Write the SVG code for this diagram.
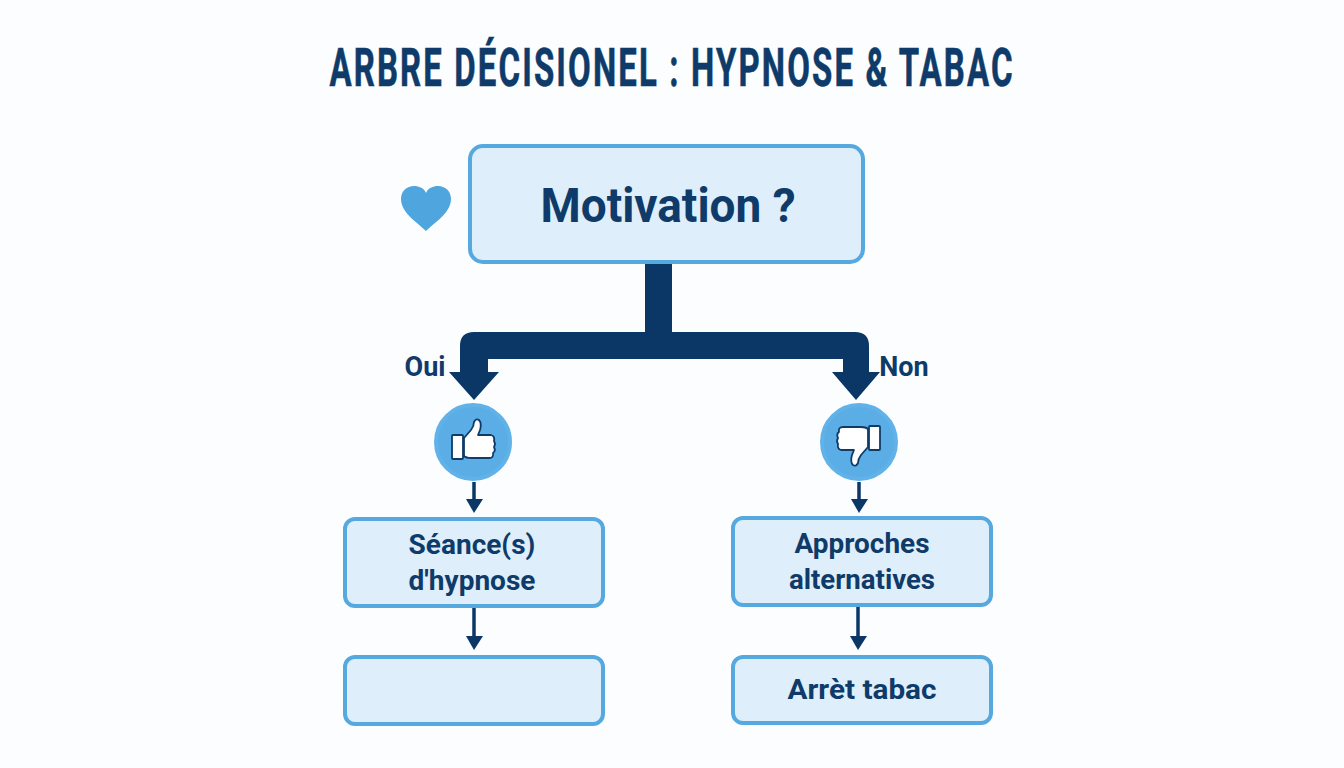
<svg xmlns="http://www.w3.org/2000/svg" width="1344" height="768" viewBox="0 0 1344 768">
<style>
text{font-family:Roboto,"Liberation Sans",sans-serif;font-weight:700;fill:#0e3b69;text-anchor:middle}
.box{fill:#deeefa;stroke:#56a9df;stroke-width:4}
.lbl{font-size:28px}
.side{font-size:27px}
.dark{fill:#0a3765}
.thin{stroke:#0a3765;stroke-width:3.5;fill:none}
.disc{fill:#5aaee5;stroke:#60b2e8;stroke-width:4}
.hand{fill:#fff;stroke:#0e3b69;stroke-width:1.8;stroke-linejoin:round}
</style>
<defs>
<g id="thumb">
<rect class="hand" x="452" y="435" width="11" height="24" rx="1"/>
<path class="hand" d="M464,438 L471,430 Q474,426 474,422 Q476,418 479,420 Q482,423 480,430 L478,435 L491,435 Q495,436 494,441 Q496,444 494,447 Q496,451 493,453 Q494,458 489,458 L471,458 Q466,458 464,456 Z"/>
</g>
</defs>
<rect width="1344" height="768" fill="#fbfdfe"/>
<g id="title"><text transform="translate(672,86) scale(0.61,1)" font-size="54" letter-spacing="3.5" stroke="#0e3b69" stroke-width="0.6">ARBRE DÉCISIONEL : HYPNOSE &amp; TABAC</text></g>
<g id="connectors">
<path class="dark" d="M645,262H672V332H855Q869,332 869,346V372H880L856,400L832,372H843V359H488V372H499L474,400L449,372H460V346Q460,332 474,332H645Z"/>
<path class="thin" d="M474,482V502"/><path class="dark" d="M466,499H483L474,513Z"/>
<path class="thin" d="M859,482V502"/><path class="dark" d="M851,499H868L859,513Z"/>
<path class="thin" d="M474,607V638"/><path class="dark" d="M466,636H483L474,650Z"/>
<path class="thin" d="M858,606V638"/><path class="dark" d="M850,636H867L858,650Z"/>
</g>
<g id="heart"><path fill="#4fa5dd" d="M426,231 C418,223 401,213 401,199 C401,191 407,186 414,186 C419,186 424,188 426,193 C428,188 433,186 438,186 C445,186 451,191 451,199 C451,213 434,223 426,231Z"/></g>
<g id="motivation"><rect class="box" x="470" y="146" width="393" height="116" rx="13"/><text x="668" y="222" font-size="48" textLength="255" lengthAdjust="spacingAndGlyphs">Motivation ?</text></g>
<g id="oui"><text class="side" x="425" y="376">Oui</text></g>
<g id="non"><text class="side" x="904" y="376">Non</text></g>
<g id="thumb-up"><circle class="disc" cx="473" cy="442" r="37"/><use href="#thumb"/></g>
<g id="thumb-down"><circle class="disc" cx="859" cy="442" r="37"/><use href="#thumb" transform="translate(1332,885) rotate(180)"/></g>
<g id="seance"><rect class="box" x="345" y="519" width="258" height="87" rx="10"/><text class="lbl" x="472" y="554">Séance(s)</text><text class="lbl" x="472" y="590">d'hypnose</text></g>
<g id="approches"><rect class="box" x="733" y="518" width="258" height="87" rx="10"/><text class="lbl" x="862" y="553" textLength="135" lengthAdjust="spacingAndGlyphs">Approches</text><text class="lbl" x="862" y="589" textLength="146" lengthAdjust="spacingAndGlyphs">alternatives</text></g>
<g id="empty"><rect class="box" x="345" y="657" width="258" height="67" rx="10"/></g>
<g id="arret"><rect class="box" x="733" y="657" width="258" height="66" rx="10"/><text class="lbl" x="862" y="699" textLength="149" lengthAdjust="spacingAndGlyphs">Arrèt tabac</text></g>
</svg>
